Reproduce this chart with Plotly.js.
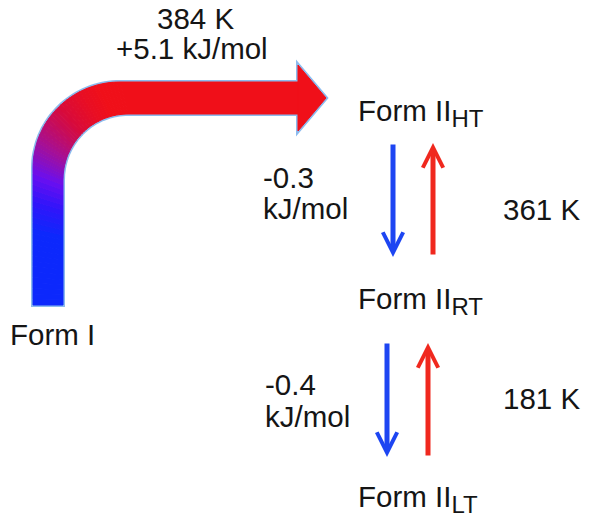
<!DOCTYPE html>
<html>
<head>
<meta charset="utf-8">
<script src="https://cdn.plot.ly/plotly-3.0.1.min.js"></script>
<style>
  html, body { margin: 0; padding: 0; background: #fff; }
  #diagram { width: 593px; height: 514px; }
</style>
</head>
<body>
<div id="diagram"></div>
<script>
// phase diagram of the forms

var formLabels = ["Form I", "Form II<sub><span style='font-size:24px'>HT</span></sub>",
                  "Form II<sub><span style='font-size:24px'>RT</span></sub>",
                  "Form II<sub><span style='font-size:24px'>LT</span></sub>"];
var transitionTemps = ["384 K", "361 K", "181 K"];
var transitionEnergies = ["+5.1", "-0.3", "-0.4"];
var energyUnit = "kJ/mol";

var FONT = {family: "Liberation Sans, Arial, Helvetica, sans-serif", size: 29.5, color: "#151515"};
var BLUE = "#1d45f2";
var RED = "#f0281e";

// colour of the big arrow, by height on the page
var gradStops = [
  [235, [12, 40, 252]], [205, [50, 20, 250]], [180, [105, 15, 240]],
  [150, [165, 15, 150]], [120, [215, 10, 60]], [100, [240, 15, 25]],
];
function gradColor(y) {
  if (y >= gradStops[0][0]) return rgb(gradStops[0][1]);
  if (y <= gradStops[gradStops.length - 1][0]) return rgb(gradStops[gradStops.length - 1][1]);
  for (var i = 0; i < gradStops.length - 1; i++) {
    var a = gradStops[i], b = gradStops[i + 1];
    if (y <= a[0] && y >= b[0]) {
      var t = (a[0] - y) / (a[0] - b[0]);
      return rgb(a[1].map(function(v, k) { return v + (b[1][k] - v) * t; }));
    }
  }
}
function rgb(c) { return "rgb(" + c.map(Math.round).join(",") + ")"; }

function poly(pts) {
  return "M" + pts.map(function(p) { return p[0].toFixed(1) + "," + p[1].toFixed(1); }).join("L") + "Z";
}

// edges of the bent arrow body
var outer = [], inner = [];
for (var i = 0; i <= 25; i++) {
  var f = i / 25;
  outer.push([33, 305 - (305 - 168) * f]);
  inner.push([63, 305 - (305 - 180) * f]);
}
for (var j = 1; j <= 36; j++) {
  var th = Math.PI - (Math.PI / 2) * j / 36;
  outer.push([120 + 87 * Math.cos(th), 168 - 86 * Math.sin(th)]);
  inner.push([128 + 65 * Math.cos(th), 180 - 66 * Math.sin(th)]);
}
outer.push([298, 82]);
inner.push([298, 114]);
var head = [[298, 65], [326, 98], [298, 131]];

var shapes = [];
// soft light-blue rim
shapes.push({
  type: "path", xref: "x", yref: "y", layer: "above",
  path: poly(outer.concat(head).concat(inner.slice().reverse())),
  fillcolor: "rgba(0,0,0,0)",
  line: {color: "rgba(120,175,235,0.85)", width: 4},
});
for (var s = 0; s < outer.length - 1; s++) {
  var pts = [outer[s], outer[s + 1], inner[s + 1], inner[s]];
  var my = (outer[s][1] + outer[s + 1][1] + inner[s][1] + inner[s + 1][1]) / 4;
  var c = gradColor(my);
  shapes.push({
    type: "path", xref: "x", yref: "y", layer: "above",
    path: poly(pts), fillcolor: c, line: {color: c, width: 1},
  });
}
shapes.push({
  type: "path", xref: "x", yref: "y", layer: "above",
  path: poly(head), fillcolor: gradColor(98), line: {color: gradColor(98), width: 1},
});

function label(text, x, y, xanchor) {
  return {text: text, x: x, y: y, xref: "x", yref: "y", xanchor: xanchor || "left",
          yanchor: "middle", showarrow: false, font: FONT};
}
function arrow(x, yFrom, yTo, color) {
  return {text: "", x: x, y: yTo, ax: x, ay: yFrom, xref: "x", yref: "y",
          axref: "x", ayref: "y", showarrow: true, arrowhead: 5, arrowsize: 0.8,
          arrowwidth: 5, arrowcolor: color, standoff: 0};
}

var annotations = [
  label(transitionTemps[0], 195, 18, "center"),
  label(transitionEnergies[0] + " " + energyUnit, 192, 48, "center"),
  label(formLabels[0], 8, 334),
  label(formLabels[1], 356, 113),
  label(formLabels[2], 356, 301),
  label(formLabels[3], 356, 499),
  label(transitionEnergies[1], 261, 177),
  label(energyUnit, 261, 208),
  label(transitionEnergies[2], 263, 384),
  label(energyUnit, 263, 416),
  label(transitionTemps[1], 501, 209),
  label(transitionTemps[2], 501, 398),
  arrow(393, 143, 257, BLUE),
  arrow(433, 256, 143, RED),
  arrow(387, 342, 457, BLUE),
  arrow(428, 457, 343, RED),
];

var layout = {
  width: 593, height: 514,
  margin: {l: 0, r: 0, t: 0, b: 0},
  paper_bgcolor: "#fff", plot_bgcolor: "#fff",
  showlegend: false,
  xaxis: {range: [0, 593], visible: false, fixedrange: true},
  yaxis: {range: [514, 0], visible: false, fixedrange: true},
  shapes: shapes,
  annotations: annotations,
};

var anchor = {x: [0], y: [0], type: "scatter", mode: "markers",
              marker: {opacity: 0}, hoverinfo: "skip"};

Plotly.newPlot("diagram", [anchor], layout, {staticPlot: true});
</script>
</body>
</html>
